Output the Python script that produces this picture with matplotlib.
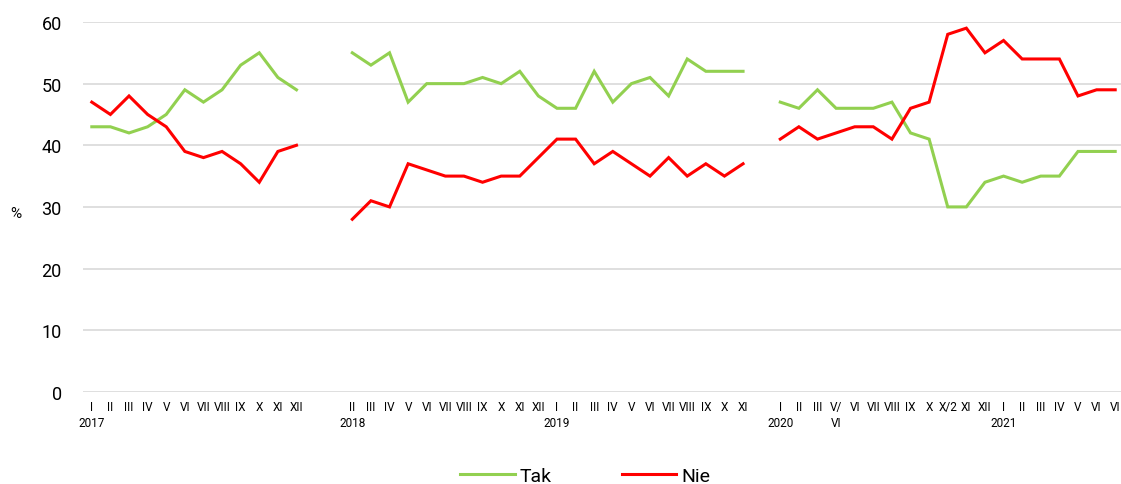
"""Poll chart: share of 'Tak' / 'Nie' answers, monthly 2017-2021."""

import matplotlib

matplotlib.use("Agg")
import matplotlib.pyplot as plt
import numpy as np
from matplotlib.lines import Line2D

plt.rcParams["font.family"] = ["Roboto", "DejaVu Sans"]

# Category labels (empty strings are gaps between survey series)
labels_2017 = ["I\n2017", "II", "III", "IV", "V", "VI", "VII", "VIII", "IX", "X", "XI", "XII"]
labels_gap1 = ["", ""]
labels_2018_19 = ["II\n2018", "III", "IV", "V", "VI", "VII", "VIII", "IX", "X", "XI", "XII",
                  "I\n2019", "II", "III", "IV", "V", "VI", "VII", "VIII", "IX", "X", "XI"]
labels_gap2 = [""]
labels_2020_21 = ["I\n2020", "II", "III", "V/\nVI", "VI", "VII", "VIII", "IX", "X", "X/2", "XI", "XII",
                  "I\n2021", "II", "III", "IV", "V", "VI", "VI"]

tak_2017 = [43, 43, 42, 43, 45, 49, 47, 49, 53, 55, 51, 49]
nie_2017 = [47, 45, 48, 45, 43, 39, 38, 39, 37, 34, 39, 40]

tak_2018_19 = [55, 53, 55, 47, 50, 50, 50, 51, 50, 52, 48, 46, 46, 52, 47, 50, 51, 48, 54, 52, 52, 52]
nie_2018_19 = [28, 31, 30, 37, 36, 35, 35, 34, 35, 35, 38, 41, 41, 37, 39, 37, 35, 38, 35, 37, 35, 37]

tak_2020_21 = [47, 46, 49, 46, 46, 46, 47, 42, 41, 30, 30, 34, 35, 34, 35, 35, 39, 39, 39]
nie_2020_21 = [41, 43, 41, 42, 43, 43, 41, 46, 47, 58, 59, 55, 57, 54, 54, 54, 48, 49, 49]

labels = labels_2017 + labels_gap1 + labels_2018_19 + labels_gap2 + labels_2020_21
gap1 = [np.nan] * len(labels_gap1)
gap2 = [np.nan] * len(labels_gap2)
tak = np.array(tak_2017 + gap1 + tak_2018_19 + gap2 + tak_2020_21, dtype=float)
nie = np.array(nie_2017 + gap1 + nie_2018_19 + gap2 + nie_2020_21, dtype=float)
x = np.arange(len(labels))

GREEN = "#92D050"
RED = "#FF0000"

fig = plt.figure(figsize=(11.21, 4.85), dpi=100)
# axes runs a few pixels past the right edge, as in the source layout
ax = fig.add_axes([82.5 / 1121, 0.19, 1042 / 1121, 0.7626])

ax.plot(x, tak, color=GREEN, linewidth=2.2, solid_joinstyle="miter")
ax.plot(x, nie, color=RED, linewidth=2.2, solid_joinstyle="miter")

ax.set_xlim(-0.5, len(labels) - 0.5)
ax.set_ylim(0, 60)
ax.set_yticks(range(0, 61, 10))
ax.set_xticks(x)
ax.set_xticklabels(labels, fontsize=8.5, linespacing=1.25)
ax.tick_params(axis="x", length=0, pad=6)
ax.tick_params(axis="y", length=0, pad=15, labelsize=13)
ax.grid(axis="y", color="#D9D9D9", linewidth=1.2)
ax.set_axisbelow(True)
for s in ax.spines.values():
    s.set_visible(False)

fig.text(0.0143, 0.558, "%", fontsize=11, ha="center", va="center")

handles = [Line2D([], [], color=GREEN, linewidth=2.2), Line2D([], [], color=RED, linewidth=2.2)]
fig.legend(handles, ["Tak", "Nie"], loc="center", bbox_to_anchor=(0.522, 0.017), ncol=2,
           frameon=False, fontsize=14, handlelength=2.8, handletextpad=0.25, columnspacing=3.6)

fig.savefig("out.png", dpi=100)
